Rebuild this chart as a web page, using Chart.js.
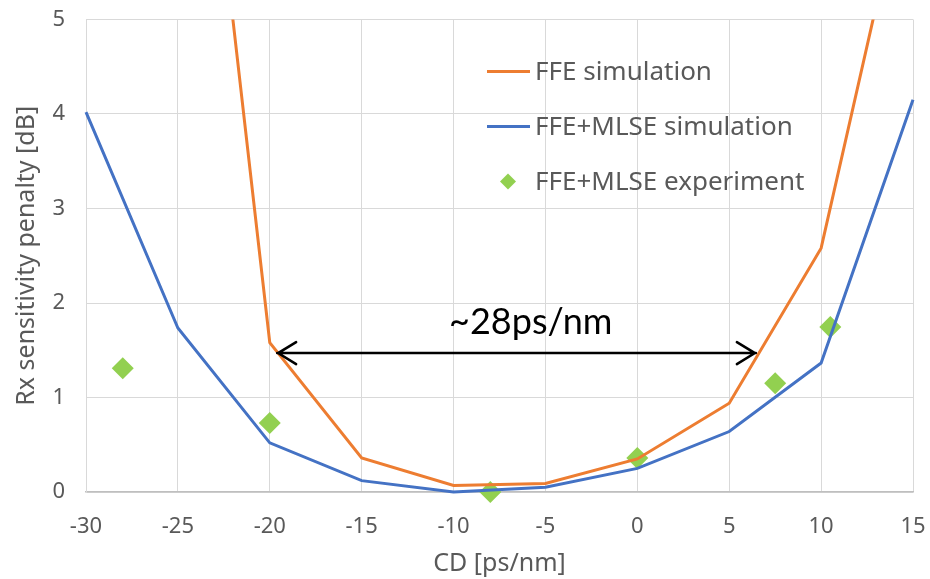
<!DOCTYPE html>
<html>
<head>
<meta charset="utf-8">
<script src="https://cdn.jsdelivr.net/npm/chart.js@4/dist/chart.umd.min.js"></script>
<style>
  html, body { margin: 0; padding: 0; background: #fff; }
  #wrap { width: 930px; height: 579px; }
</style>
</head>
<body>
<div id="wrap"><canvas id="cdChart" width="930" height="579"></canvas></div>
<script>
// CD values (ps/nm) and penalties (dB)
const cdSim = [-30, -25, -20, -15, -10, -5, 0, 5, 10, 15];
const ffeSim = [null, 10.1, 1.58, 0.36, 0.07, 0.09, 0.35, 0.94, 2.58, 6.86];
const mlseSim = [4.02, 1.735, 0.52, 0.12, 0.0, 0.05, 0.25, 0.64, 1.365, 4.15];
const cdExp = [-28, -20, -8, 0, 7.5, 10.5];
const mlseExp = [1.31, 0.73, 0.0, 0.36, 1.15, 1.745];
const xTicks = [-30, -25, -20, -15, -10, -5, 0, 5, 10, 15];
const yTicks = [0, 1, 2, 3, 4, 5];

// annotation: arrow span + label, in data units
const arrowFrom = [-19.6, 1.47];
const arrowTo = [6.45, 1.47];
const spanLabel = '~28ps/nm';
const spanLabelAt = [-5.8, 1.79];

const ORANGE = '#ED7D31';
const BLUE = '#4472C4';
const GREEN = '#92D050';
const GREY_TXT = '#595959';
const FONT = '"Noto Sans", "DejaVu Sans", sans-serif';

const toXY = (xs, ys) => xs.map((x, i) => ({ x: x, y: ys[i] }));

// legend drawn inside the plot, top right
const insideLegend = {
  id: 'insideLegend',
  afterDraw(chart) {
    const ctx = chart.ctx;
    const a = chart.chartArea;
    const x0 = a.left + 401, y0 = a.top + 52, dy = 55;
    ctx.save();
    ctx.font = '26px ' + FONT;
    ctx.fillStyle = GREY_TXT;
    ctx.textBaseline = 'middle';
    chart.data.datasets.forEach((ds, i) => {
      const y = y0 + i * dy;
      if (ds.showLine === false) {
        ctx.fillStyle = GREEN;
        ctx.beginPath();
        ctx.moveTo(x0 + 21 - 8, y);
        ctx.lineTo(x0 + 21, y - 8);
        ctx.lineTo(x0 + 21 + 8, y);
        ctx.lineTo(x0 + 21, y + 8);
        ctx.closePath();
        ctx.fill();
      } else {
        ctx.strokeStyle = ds.borderColor;
        ctx.lineWidth = 3;
        ctx.beginPath();
        ctx.moveTo(x0, y);
        ctx.lineTo(x0 + 43, y);
        ctx.stroke();
      }
      ctx.fillStyle = GREY_TXT;
      ctx.fillText(ds.label, x0 + 48, y + 1);
    });
    ctx.restore();
  }
};

// double-headed arrow with the span label
const spanArrow = {
  id: 'spanArrow',
  afterDatasetsDraw(chart) {
    const ctx = chart.ctx;
    const xs = chart.scales.x, ys = chart.scales.y;
    const x1 = xs.getPixelForValue(arrowFrom[0]);
    const x2 = xs.getPixelForValue(arrowTo[0]);
    const y = ys.getPixelForValue(arrowFrom[1]);
    ctx.save();
    ctx.strokeStyle = '#000';
    ctx.lineWidth = 2.5;
    ctx.lineCap = 'round';
    ctx.beginPath();
    ctx.moveTo(x1, y);
    ctx.lineTo(x2, y);
    ctx.moveTo(x1 + 19, y - 11);
    ctx.lineTo(x1 + 1, y);
    ctx.lineTo(x1 + 19, y + 11);
    ctx.moveTo(x2 - 19, y - 11);
    ctx.lineTo(x2 - 1, y);
    ctx.lineTo(x2 - 19, y + 11);
    ctx.stroke();
    ctx.fillStyle = '#000';
    ctx.font = '36px Lato, ' + FONT;
    ctx.textAlign = 'center';
    ctx.textBaseline = 'middle';
    ctx.fillText(spanLabel, xs.getPixelForValue(spanLabelAt[0]), ys.getPixelForValue(spanLabelAt[1]));
    ctx.restore();
  }
};

new Chart(document.getElementById('cdChart'), {
  type: 'scatter',
  data: {
    datasets: [
      {
        label: 'FFE simulation',
        data: toXY(cdSim, ffeSim),
        showLine: true,
        borderColor: ORANGE,
        backgroundColor: ORANGE,
        borderWidth: 3,
        pointRadius: 0,
        tension: 0,
        clip: { left: 5, right: 5, top: 0, bottom: 5 }
      },
      {
        label: 'FFE+MLSE simulation',
        data: toXY(cdSim, mlseSim),
        showLine: true,
        borderColor: BLUE,
        backgroundColor: BLUE,
        borderWidth: 3,
        pointRadius: 0,
        tension: 0,
        clip: { left: 5, right: 5, top: 0, bottom: 5 }
      },
      {
        label: 'FFE+MLSE experiment',
        data: toXY(cdExp, mlseExp),
        showLine: false,
        pointStyle: 'rectRot',
        pointRadius: 11,
        pointBackgroundColor: GREEN,
        pointBorderColor: GREEN,
        pointBorderWidth: 0,
        clip: false
      }
    ]
  },
  options: {
    responsive: false,
    animation: false,
    layout: { autoPadding: false, padding: { top: 19.5, right: 17, left: 0, bottom: 0 } },
    plugins: {
      legend: { display: false },
      tooltip: { enabled: false }
    },
    scales: {
      x: {
        type: 'linear',
        min: -30,
        max: 15,
        afterBuildTicks: s => { s.ticks = xTicks.map(v => ({ value: v })); },
        afterFit: s => { s.height = 87; s.paddingLeft = 0; s.paddingRight = 0; },
        grid: { color: '#d9d9d9', lineWidth: 1, drawTicks: false },
        border: { color: '#bfbfbf', width: 1.5 },
        ticks: { color: GREY_TXT, font: { family: FONT, size: 22 }, padding: 22, maxRotation: 0 },
        title: {
          display: true,
          text: 'CD [ps/nm]',
          color: GREY_TXT,
          font: { family: FONT, size: 25 },
          padding: { top: 0, bottom: 0 }
        }
      },
      y: {
        min: 0,
        max: 5,
        afterBuildTicks: s => { s.ticks = yTicks.map(v => ({ value: v })); },
        afterFit: s => { s.width = 86; s.paddingTop = 0; s.paddingBottom = 0; },
        grid: { color: '#d9d9d9', lineWidth: 1, drawTicks: false },
        border: { color: '#d9d9d9' },
        ticks: { color: GREY_TXT, font: { family: FONT, size: 22 }, padding: 21 },
        title: {
          display: true,
          text: 'Rx sensitivity penalty [dB]',
          color: GREY_TXT,
          font: { family: FONT, size: 25 },
          padding: { top: 12, bottom: 0 }
        }
      }
    }
  },
  plugins: [insideLegend, spanArrow]
});
</script>
</body>
</html>
